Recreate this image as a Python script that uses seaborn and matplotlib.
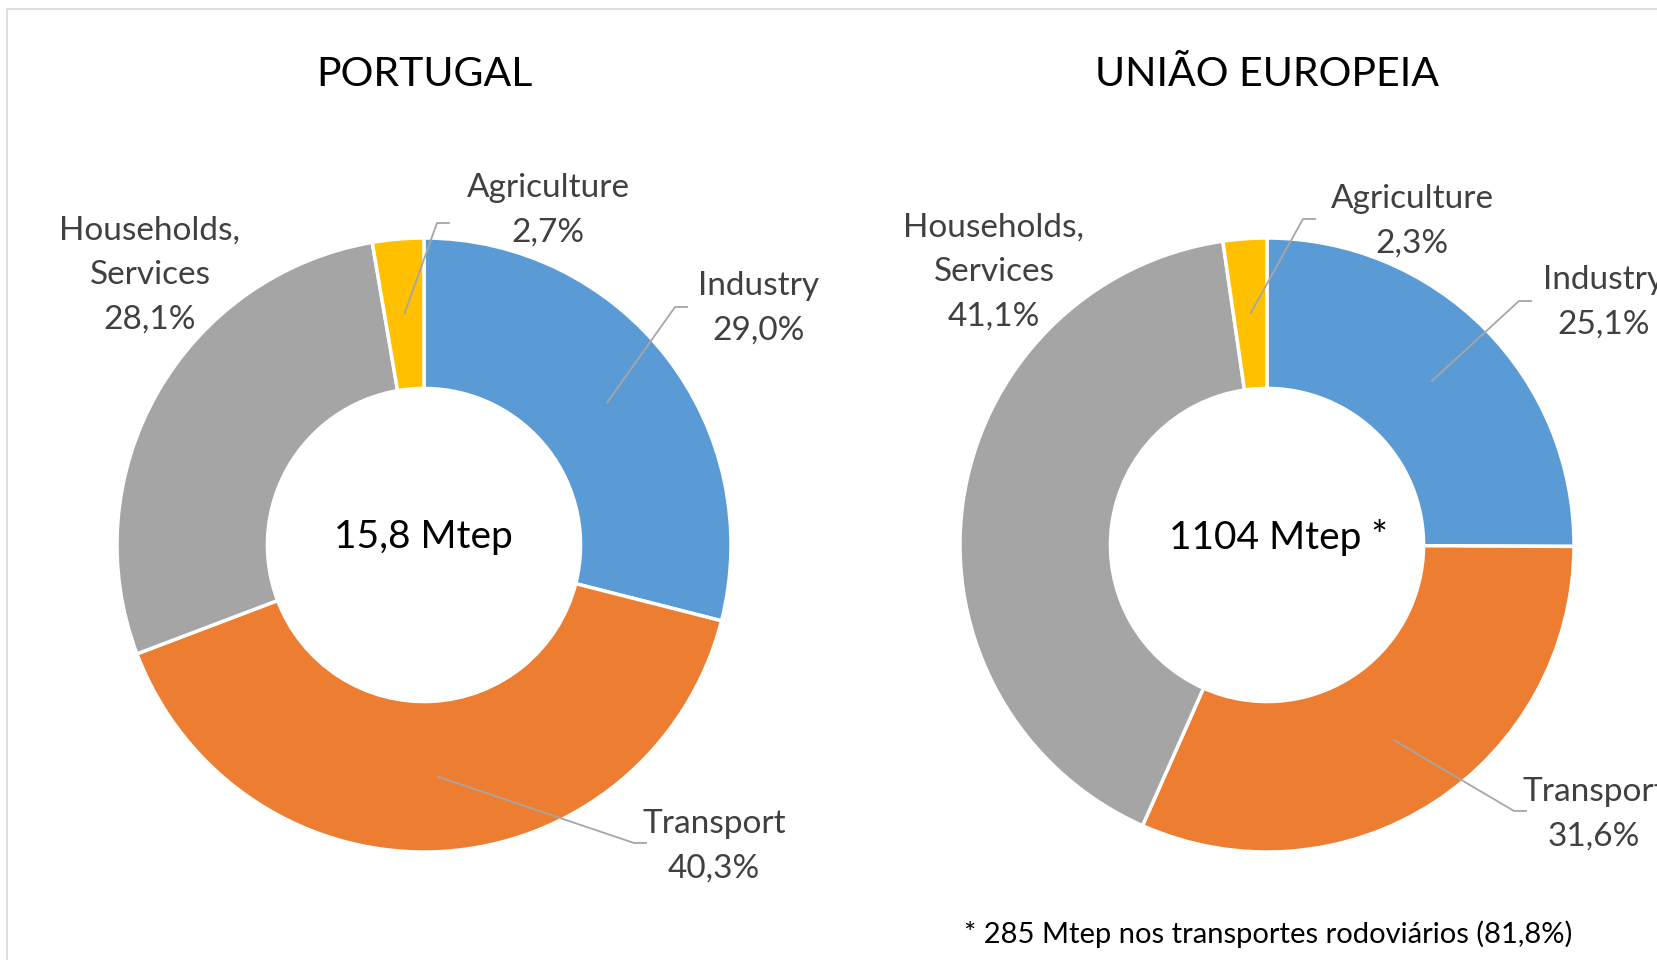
import numpy as np
import matplotlib
matplotlib.use("Agg")
import matplotlib.pyplot as plt
import seaborn as sns

sectors = ["Industry", "Transport", "Households,\nServices", "Agriculture"]
portugal = [29.0, 40.3, 28.1, 2.7]
eu = [25.1, 31.6, 41.1, 2.3]
colors = ["#5B9BD5", "#ED7D31", "#A5A5A5", "#FFC000"]
titles = ["PORTUGAL", "UNIÃO EUROPEIA"]
totals = ["15,8 Mtep", "1104 Mtep *"]
footnote = "* 285 Mtep nos transportes rodoviários (81,8%)"

sns.set_style("white")
plt.rcParams['font.family'] = ['Lato', 'DejaVu Sans']

W, H = 1658, 960
fig = plt.figure(figsize=(W / 100, H / 100), dpi=100)
ax = fig.add_axes([0, 0, 1, 1])
ax.set_xlim(0, W)
ax.set_ylim(0, H)
ax.set_aspect("equal")
ax.axis("off")

R = 307
ring = 0.49
txt = "#404040"
line_c = "#A6A6A6"

# chart positions (pixels from top)
centers = [(424, 545), (1267, 545)]
title_pos = [(424, 74), (1267, 74)]
total_pos = [(423, 537), (1278, 537)]
# label text centre, elbow of leader line (None = no leader)
label_pos = [
    [(759, 308), (714, 846), (150, 275), (548, 210)],
    [(1604, 302), (1594, 814), (994, 272), (1412, 221)],
]
elbows = [
    [(675, 307), (634, 843), None, (437, 223)],
    [(1519, 301), (1514, 811), None, (1303, 219)],
]

for k, vals in enumerate([portugal, eu]):
    cx, cy = centers[k]
    cy = H - cy
    ax.pie(vals, colors=colors, startangle=90, counterclock=False,
           center=(cx, cy), radius=R, frame=True,
           wedgeprops=dict(width=R * ring, edgecolor="white", linewidth=2.5))
    ax.text(title_pos[k][0], H - title_pos[k][1], titles[k], ha="center",
            va="center", fontsize=29.5, color="black")
    ax.text(total_pos[k][0], H - total_pos[k][1], totals[k], ha="center",
            va="center", fontsize=28, color="black")
    cum = np.cumsum(vals) - np.array(vals) / 2
    frac = cum / np.sum(vals)
    for i, name in enumerate(sectors):
        lx, ly = label_pos[k][i]
        ax.text(lx, H - ly, f"{name}\n{vals[i]:.1f}".replace(".", ",") + "%",
                ha="center", va="center", fontsize=24, color=txt,
                linespacing=1.62, clip_on=False)
        if elbows[k][i] is None:
            continue
        ang = np.pi / 2 - 2 * np.pi * frac[i]
        rm = R * (1 - ring / 2)
        ax0, ay0 = cx + rm * np.cos(ang), cy + rm * np.sin(ang)
        ex, ey = elbows[k][i]
        ey = H - ey
        ax.plot([ax0, ex, ex + 13], [ay0, ey, ey], color=line_c, lw=1.3,
                solid_capstyle="butt")

ax.set_xlim(0, W)
ax.set_ylim(0, H)

ax.text(1268, H - 934, footnote, ha="center", va="center", fontsize=21,
        color="black")

# chart area border (left and top visible)
ax.plot([7, 7, W + 5], [-5, H - 9, H - 9], color="#D9D9D9", lw=1.2)

fig.savefig("out.png", dpi=100)
